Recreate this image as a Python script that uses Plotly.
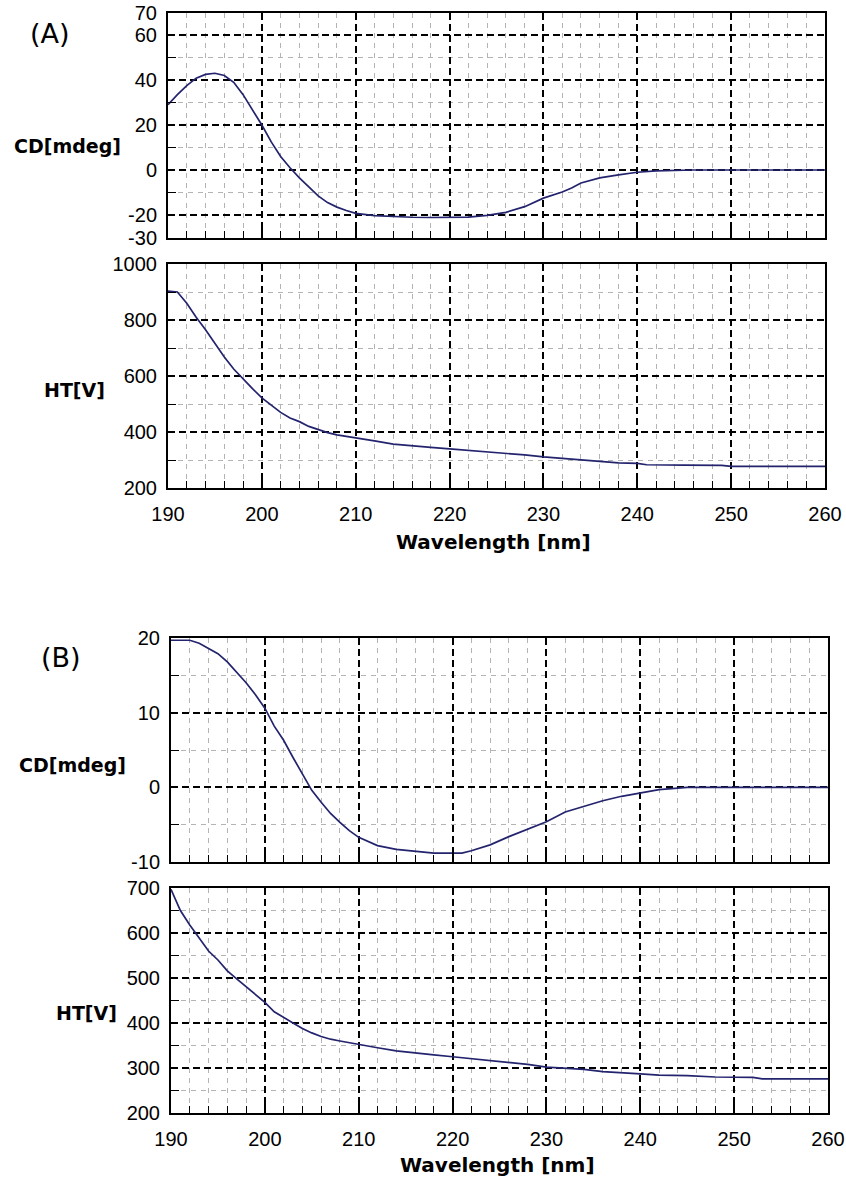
import plotly.graph_objects as go

# ---- data -------------------------------------------------------------
# (A) CD spectrum
a_cd_nm = [190, 191, 192, 193, 194, 195, 196, 197, 198, 199, 200, 201, 202, 203,
           204, 205, 206, 207, 208, 209, 210, 212, 214, 216, 218, 220, 222, 224,
           226, 228, 230, 232, 233, 234, 236, 238, 240, 242, 244, 246, 250, 255, 260]
a_cd = [29, 33.5, 37.5, 40.8, 42.5, 43, 42, 39, 33.5, 27, 20, 12.5, 6, 1,
        -3.5, -7.5, -11.5, -14.5, -16.5, -18, -19.3, -20.3, -20.8, -21, -21.1, -21.1, -20.9, -20.2,
        -18.8, -16.3, -12.5, -9.8, -8, -5.8, -3.5, -2.2, -1.0, -0.4, -0.1, 0, 0, 0, 0]

# (A) HT voltage
a_ht_nm = [190, 191, 192, 193, 194, 195, 196, 197, 198, 199, 200, 201, 202, 203,
           204, 205, 206, 207, 208, 210, 212, 214, 216, 218, 220, 222, 224, 226,
           228, 230, 232, 234, 236, 238, 240, 241, 245, 249, 250, 255, 260]
a_ht = [903, 900, 860, 810, 765, 715, 668, 625, 588, 555, 522, 495, 470, 450,
        437, 420, 408, 398, 390, 378, 368, 357, 350, 345, 340, 335, 329, 324,
        318, 311, 306, 301, 294, 290, 288, 283, 282, 281, 277, 277, 277]

# (B) CD spectrum
b_cd_nm = [190, 192, 193, 194, 195, 196, 197, 198, 199, 200, 201, 202, 203, 204,
           205, 206, 207, 208, 209, 210, 211, 212, 214, 216, 218, 220, 221, 222,
           223, 224, 226, 228, 230, 232, 234, 236, 238, 240, 242, 244, 245, 250, 260]
b_cd = [19.7, 19.7, 19.3, 18.6, 17.9, 16.8, 15.4, 14, 12.4, 10.6, 8.2, 6.3, 4, 1.8,
        -0.4, -2, -3.5, -4.7, -5.8, -6.7, -7.3, -7.8, -8.3, -8.5, -8.8, -8.8, -8.8, -8.5,
        -8.1, -7.7, -6.6, -5.6, -4.6, -3.3, -2.5, -1.8, -1.2, -0.7, -0.3, -0.1, 0, 0, 0]

# (B) HT voltage
b_ht_nm = [190, 191, 192, 193, 194, 195, 196, 197, 198, 199, 200, 201, 202, 203,
           204, 205, 206, 207, 208, 210, 212, 214, 216, 218, 220, 222, 224, 226,
           228, 230, 232, 234, 236, 238, 240, 242, 245, 248, 250, 252, 253, 260]
b_ht = [697, 650, 618, 590, 560, 540, 516, 498, 480, 462, 446, 425, 412, 400,
        388, 378, 370, 364, 360, 352, 345, 338, 333, 329, 325, 321, 317, 313,
        308, 302, 299, 297, 292, 290, 287, 284, 283, 280, 280, 279, 276, 276]

# ---- tick definitions -------------------------------------------------
x_major = [190, 200, 210, 220, 230, 240, 250, 260]
x_minor = [v for v in range(190, 261, 2) if v % 10 != 0]

a_cd_major = [-30, -20, 0, 20, 40, 60, 70]
a_cd_minor = [-10, 10, 30, 50]
a_ht_major = [200, 400, 600, 800, 1000]
a_ht_minor = [300, 500, 700, 900]
b_cd_major = [-10, 0, 10, 20]
b_cd_minor = [-5, 5, 15]
b_ht_major = [200, 300, 400, 500, 600, 700]
b_ht_minor = [250, 350, 450, 550, 650]

# ---- figure -----------------------------------------------------------
W, H = 846, 1180
LINE_COLOR = "#23236e"
TICK_FONT = dict(family="Liberation Sans, Arial, sans-serif", size=20, color="black")
LABEL_FONT = dict(family="DejaVu Sans, Verdana, sans-serif", size=19, color="black")


def ydom(top_px, bottom_px):
    return [1 - bottom_px / H, 1 - top_px / H]


def xdom(left_px, right_px):
    return [left_px / W, right_px / W]


def x_axis(domain, anchor, labels):
    return dict(
        domain=domain, anchor=anchor, range=[190, 260], automargin=False,
        tickmode="array", tickvals=x_major, ticktext=[str(v) for v in x_major],
        showticklabels=labels,
        ticks="inside", ticklen=11, tickwidth=1.6, tickcolor="black",
        tickfont=TICK_FONT, ticklabelstandoff=7,
        showline=True, linecolor="black", linewidth=2, mirror=True,
        showgrid=True, gridcolor="black", gridwidth=1.6, griddash="7px,4px",
        zeroline=False,
        minor=dict(tickmode="array", tickvals=x_minor, ticks="inside", ticklen=7,
                   tickwidth=1.3, tickcolor="black", showgrid=True,
                   gridcolor="#b4b4b4", gridwidth=1, griddash="5px,5px"),
    )


def y_axis(domain, anchor, rng, major, minor):
    return dict(
        domain=domain, anchor=anchor, range=rng, automargin=False,
        tickmode="array", tickvals=major, ticktext=[str(v) for v in major],
        ticks="", tickfont=TICK_FONT, ticklabelstandoff=5,
        showline=True, linecolor="black", linewidth=2, mirror=True,
        showgrid=True, gridcolor="black", gridwidth=1.6, griddash="7px,4px",
        zeroline=False,
        minor=dict(tickmode="array", tickvals=minor, ticks="inside", ticklen=8,
                   tickwidth=1.3, tickcolor="black", showgrid=True,
                   gridcolor="#b4b4b4", gridwidth=1, griddash="5px,5px"),
    )


fig = go.Figure()
series = [
    (a_cd_nm, a_cd, "x", "y"),
    (a_ht_nm, a_ht, "x2", "y2"),
    (b_cd_nm, b_cd, "x3", "y3"),
    (b_ht_nm, b_ht, "x4", "y4"),
]
for xs, ys, xa, ya in series:
    fig.add_trace(go.Scatter(x=xs, y=ys, xaxis=xa, yaxis=ya, mode="lines",
                             line=dict(color=LINE_COLOR, width=1.7),
                             showlegend=False, hoverinfo="skip"))

xa_dom = xdom(168, 825)
xb_dom = xdom(171, 828)

fig.update_layout(
    width=W, height=H,
    margin=dict(l=0, r=0, t=0, b=0, pad=0, autoexpand=False),
    paper_bgcolor="white", plot_bgcolor="white",
    xaxis=x_axis(xa_dom, "y", False),
    yaxis=y_axis(ydom(12.5, 237.5), "x", [-30, 70], a_cd_major, a_cd_minor),
    xaxis2=x_axis(xa_dom, "y2", True),
    yaxis2=y_axis(ydom(264, 488), "x2", [200, 1000], a_ht_major, a_ht_minor),
    xaxis3=x_axis(xb_dom, "y3", False),
    yaxis3=y_axis(ydom(638, 862), "x3", [-10, 20], b_cd_major, b_cd_minor),
    xaxis4=x_axis(xb_dom, "y4", True),
    yaxis4=y_axis(ydom(888, 1113), "x4", [200, 700], b_ht_major, b_ht_minor),
)


def label(text, x_px, y_px, font, bold=True):
    fig.add_annotation(
        text=f"<b>{text}</b>" if bold else text,
        x=x_px / W, y=1 - y_px / H, xref="paper", yref="paper",
        xanchor="center", yanchor="middle", showarrow=False, font=font,
    )


PANEL_FONT = dict(family="DejaVu Sans, sans-serif", size=27, color="black")
label("(A)", 50, 34, PANEL_FONT, bold=False)
label("(B)", 61, 657, PANEL_FONT, bold=False)
label("CD[mdeg]", 67, 146, LABEL_FONT)
label("HT[V]", 74, 390, LABEL_FONT)
label("CD[mdeg]", 72, 765, LABEL_FONT)
label("HT[V]", 86, 1013, LABEL_FONT)
WL_FONT = dict(family="DejaVu Sans, Verdana, sans-serif", size=20, color="black")
label("Wavelength [nm]", 494, 542, WL_FONT)
label("Wavelength [nm]", 497, 1165, WL_FONT)

fig.write_html("out.html")
